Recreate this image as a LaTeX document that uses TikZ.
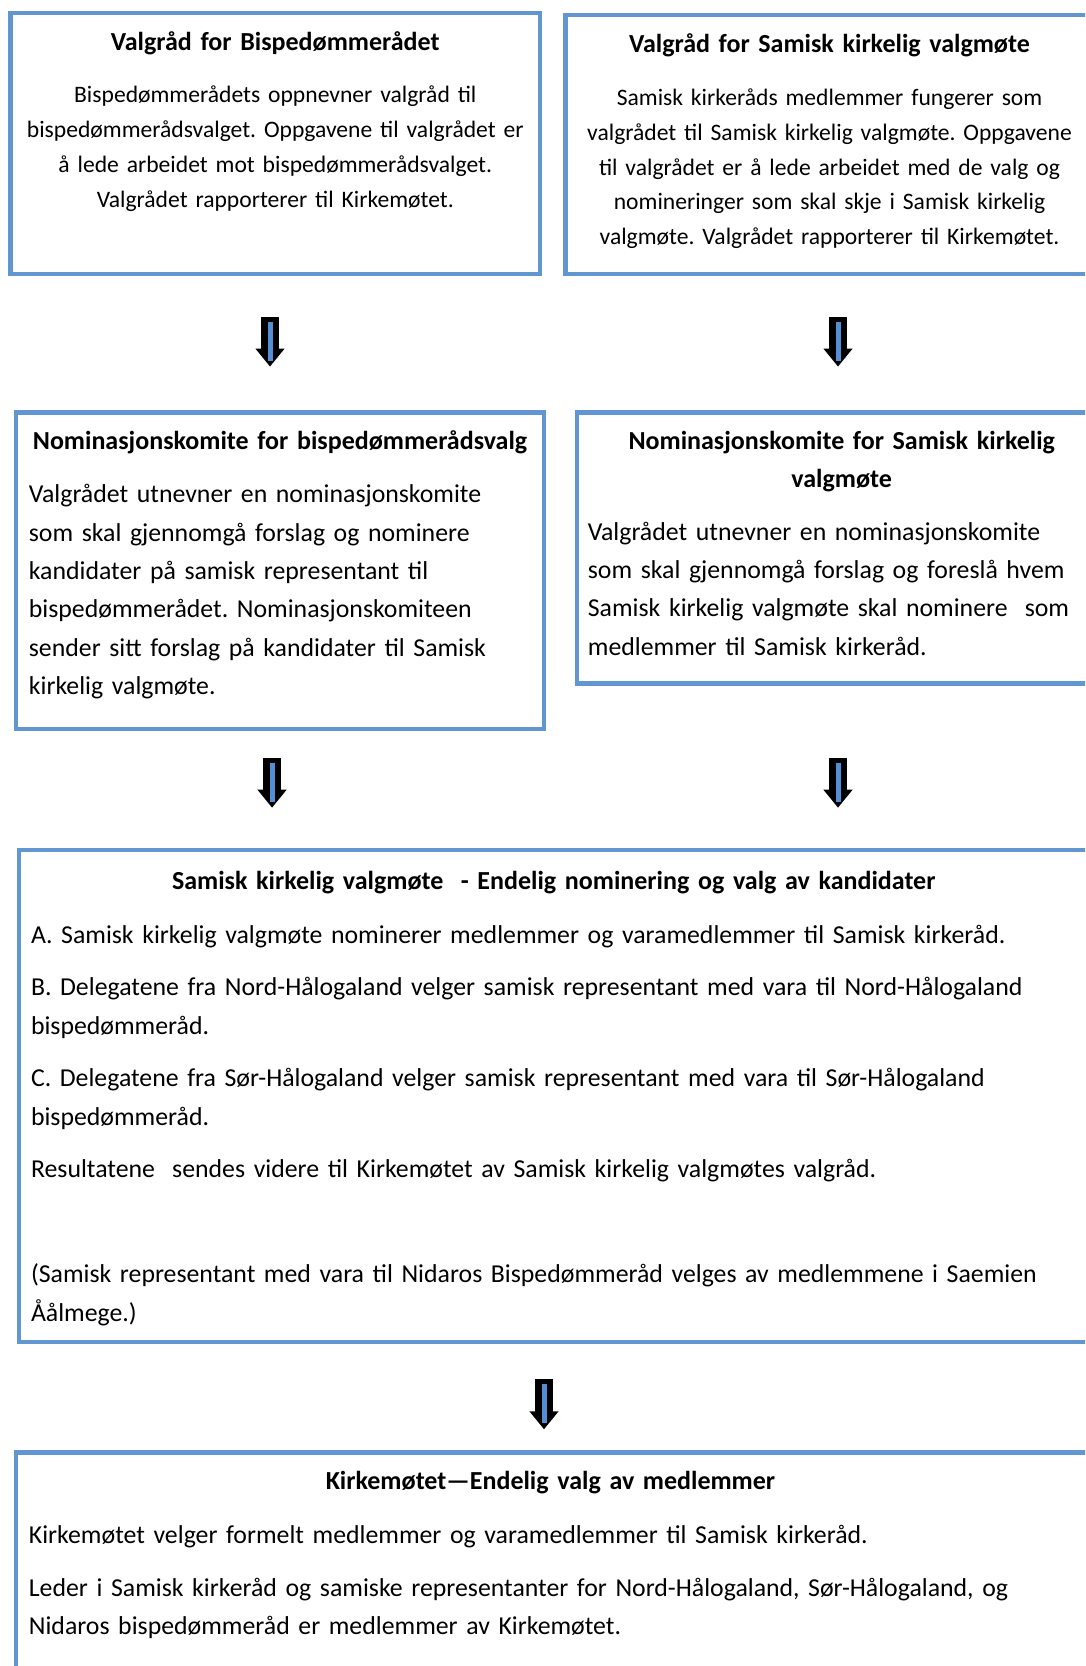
\documentclass[tikz,border=0pt]{standalone}
\usepackage{fontspec}
\setmainfont{Carlito}
\usepackage{tikz}
\usetikzlibrary{positioning, arrows.meta}
\definecolor{panelblue}{RGB}{98,150,208}
\definecolor{arrowblue}{RGB}{84,142,212}
\frenchspacing
\newcommand{\smallbody}{\fontsize{23.6}{35}\selectfont}
\newcommand{\largebody}{\fontsize{25.8}{38.4}\selectfont}
\tikzset{
    panel/.style={draw=panelblue, line width=4.5pt, inner sep=0pt, outer sep=0pt, anchor=north west},
    heading/.style={font=\bfseries\fontsize{26}{38}\selectfont, inner sep=0pt, text width=520pt, align=center},
    ctext/.style={font=\smallbody, inner sep=0pt, text width=520pt, align=center},
    ltext/.style={font=\largebody, inner sep=0pt, text width=1040pt, align=left},
    flowarrow/.style 2 args={draw=black, line width=18pt, -{Triangle[length=18pt, width=28pt]},
        shorten <=#1, shorten >=#2,
        postaction={draw=arrowblue, line width=5pt, -, shorten <=#1+5pt, shorten >=#2+6pt}} }

\begin{document}
\begin{tikzpicture}[x=1pt, y=-1pt]
      \useasboundingbox (0,0) rectangle (1085,1666);
      \fill[white] (0,0) rectangle (1085,1666);
      \clip (0,0) rectangle (1085,1666);
      % ----
      \node[panel, minimum width=529.3, minimum height=261.4] (vb) at (10.6,12.8) {};
      \node[panel, minimum width=528.2, minimum height=259.3] (vs) at (565.4,14.9) {};
      \node[panel, minimum width=528.1, minimum height=316.7] (nb) at (16,412.3) {};
      \node[panel, minimum width=529.4, minimum height=271] (ns) at (577,412.3) {};
      \node[panel, minimum width=1069.2, minimum height=492] (skv) at (19.1,850.2) {};
      \node[panel, minimum width=1100, minimum height=300] (km) at (16,1452.7) {};
      % ----
      \node[heading, below=11pt of vb.north] (vbh) {\strut Valgråd for Bispedømmerådet};
      \node[ctext, below=65pt of vb.north] (vbt) {\strut Bispedømmerådets oppnevner valgråd til\\
          bispedømmerådsvalget. Oppgavene til valgrådet er\\
          å lede arbeidet mot bispedømmerådsvalget.\\
          Valgrådet rapporterer til Kirkemøtet.};
      % ----
      \node[heading, below=11pt of vs.north] (vsh) {\strut Valgråd for Samisk kirkelig valgmøte};
      \node[ctext, below=66.5pt of vs.north, font=\fontsize{23.6}{34.6}\selectfont] (vst) {\strut Samisk kirkeråds medlemmer fungerer som\\
          valgrådet til Samisk kirkelig valgmøte. Oppgavene\\
          til valgrådet er å lede arbeidet med de valg og\\
          nomineringer som skal skje i Samisk kirkelig\\
          valgmøte. Valgrådet rapporterer til Kirkemøtet.};
      % ----
      \node[heading, below=10pt of nb.north] (nbh) {\strut Nominasjonskomite for bispedømmerådsvalg};
      \node[ltext, below right=63.3pt and 12.7pt of nb.north west] (nbt) {\strut Valgrådet utnevner en nominasjonskomite\\
          som skal gjennomgå forslag og nominere\\
          kandidater på samisk representant til\\
          bispedømmerådet. Nominasjonskomiteen\\
          sender sitt forslag på kandidater til Samisk\\
          kirkelig valgmøte.};
      % ----
      \node[heading, below=10pt of ns.north] (nsh) {\strut Nominasjonskomite for Samisk kirkelig\\ valgmøte};
      \node[ltext, below right=100.7pt and 10.7pt of ns.north west] (nst) {\strut Valgrådet utnevner en nominasjonskomite\\
          som skal gjennomgå forslag og foreslå hvem\\
          Samisk kirkelig valgmøte skal nominere~ som\\
          medlemmer til Samisk kirkeråd.};
      % ----
      \node[heading, text width=1000pt, below=12pt of skv.north] (skvh) {\strut Samisk kirkelig valgmøte~ - Endelig nominering og valg av kandidater};
      \node[ltext, below right=66pt and 11.7pt of skv.north west, font=\fontsize{25.8}{38.8}\selectfont] (skvt) {\strut A. Samisk kirkelig valgmøte nominerer medlemmer og varamedlemmer til Samisk kirkeråd.\\[13.4pt]
          B. Delegatene fra Nord-Hålogaland velger samisk representant med vara til Nord-Hålogaland\\
          bispedømmeråd.\\[13.4pt]
          C. Delegatene fra Sør-Hålogaland velger samisk representant med vara til Sør-Hålogaland\\
          bispedømmeråd.\\[13.4pt]
          Resultatene~ sendes videre til Kirkemøtet av Samisk kirkelig valgmøtes valgråd.\\[66.3pt]
          (Samisk representant med vara til Nidaros Bispedømmeråd velges av medlemmene i Saemien\\
          Åålmege.)};
      % ----
      \node[heading, text width=1000pt, below=10pt of km.north, xshift=-15.5pt] (kmh) {\strut Kirkemøtet—Endelig valg av medlemmer};
      \node[ltext, below right=63.4pt and 12.7pt of km.north west] (kmt) {\strut Kirkemøtet velger formelt medlemmer og varamedlemmer til Samisk kirkeråd.\\[14.8pt]
          Leder i Samisk kirkeråd og samiske representanter for Nord-Hålogaland, Sør-Hålogaland, og\\
          Nidaros bispedømmeråd er medlemmer av Kirkemøtet.};
      % ----
      \draw[flowarrow={42.5pt}{45.7pt}] ([xshift=-5.25pt]vb.south) -- ([xshift=-5.25pt]vb.south |- nb.north);
      \draw[flowarrow={42.5pt}{45.7pt}] ([xshift=8.5pt]vs.south) -- ([xshift=8.5pt]vs.south |- ns.north);
      \draw[flowarrow={28.7pt}{42.5pt}] ([xshift=-8pt]nb.south) -- ([xshift=-8pt]nb.south |- skv.north);
      \draw[flowarrow={74.4pt}{42.5pt}] ([xshift=-3.7pt]ns.south) -- ([xshift=-3.7pt]ns.south |- skv.north);
      \draw[flowarrow={37.2pt}{23.4pt}] ([xshift=-9.7pt]skv.south) -- ([xshift=-9.7pt]skv.south |- km.north);
\end{tikzpicture}
\end{document}
